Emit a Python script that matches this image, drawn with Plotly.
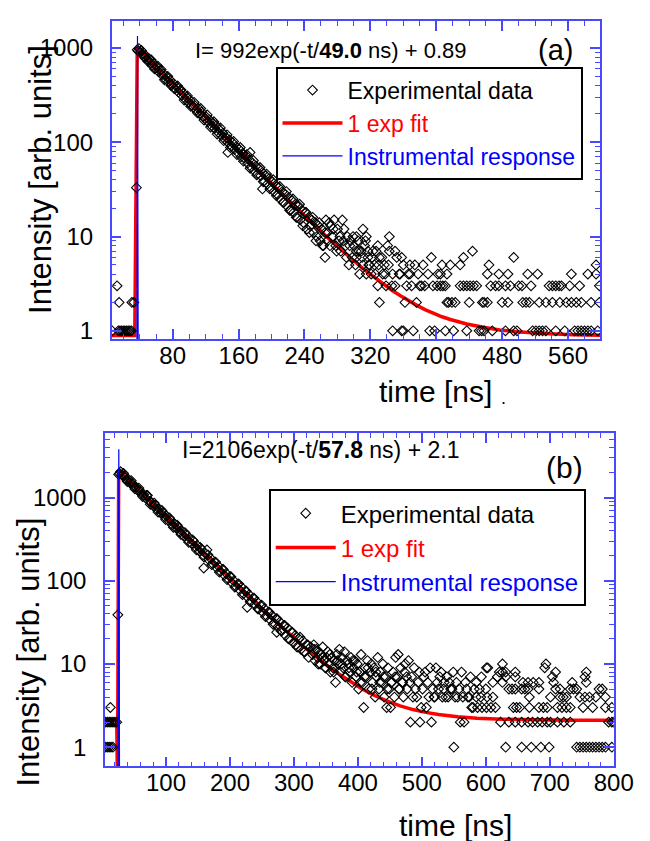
import plotly.graph_objects as go

W, H = 650, 841
FONT = "Liberation Sans, Arial, sans-serif"
FRAME = "#4848ff"

# ---------------- Panel (a) data ----------------
A_PRE_T = [6.5, 14, 16, 18, 20, 22, 24, 26, 28, 30, 15, 30.5, 33, 12.5, 36]
A_PRE_I = [1, 1, 1, 1, 1, 1, 1, 1, 1, 1, 2, 2, 2, 3, 33]

A_DEC_T = [37, 39, 41, 43, 45, 47, 49, 51, 53, 55, 57, 59, 61, 63, 65, 67, 69, 71, 73, 75,
           77, 79, 81, 83, 85, 87, 89, 91, 93, 95, 97, 99, 101, 103, 105, 107, 109, 111, 113, 115,
           117, 119, 121, 123, 125, 127, 129, 131, 133, 135, 137, 139, 141, 143, 145, 147, 149, 151, 153, 155,
           157, 159, 161, 163, 165, 167, 169, 171, 173, 175, 177, 179, 181, 183, 185, 187, 189, 191, 193, 195,
           197, 199, 201, 203, 205, 207, 209, 211, 213, 215, 217, 219, 221, 223, 225, 227, 229, 231, 233, 235,
           237, 239, 241, 243, 245, 247, 249, 251, 253, 255, 257, 259, 261, 263, 265]
A_DEC_I = [960, 985, 900, 870, 820, 835, 760, 770, 700, 650,
           680, 610, 625, 560, 575, 520, 530, 470, 490, 440,
           455, 410, 420, 370, 385, 340, 355, 315, 330, 290,
           300, 265, 280, 250, 235, 245, 220, 230, 200, 210,
           190, 178, 185, 165, 172, 150, 158, 140, 150, 128,
           135, 118, 125, 108, 112, 100, 106, 92, 98, 84,
           90, 78, 84, 70, 76, 68, 72, 60, 65, 55,
           60, 50, 56, 46, 52, 44, 48, 39, 44, 36,
           41, 33, 38, 30, 35, 28, 33, 25, 30, 23,
           28, 21, 26, 19, 24, 18, 22, 16, 21, 15,
           19, 14, 18, 12, 16, 13, 15, 11, 14, 10,
           13, 9, 12, 8, 11]
A_DEC2_T = [38, 42, 46, 50, 54, 58, 62, 66, 70, 74, 78, 82, 86, 90, 94, 98, 102, 106, 110, 114,
            118, 122, 126, 130, 134, 138, 142, 146, 150, 154, 158, 162, 166, 170, 174, 178, 182, 186, 190, 194,
            198, 202, 206, 210, 214, 218, 222, 226, 230, 234, 238, 242, 246, 250, 254, 258, 262]
A_DEC2_I = [930, 940, 790, 720, 745, 600, 640, 590, 460, 500, 400, 370, 395, 360, 280, 310, 240, 265, 205, 228,
            172, 195, 145, 165, 122, 142, 104, 120, 88, 102, 74, 88, 63, 74, 53, 64, 45, 54, 38, 46,
            32, 40, 27, 34, 23, 30, 19, 25, 16, 22, 13, 18, 11, 16, 9, 14, 8]
A_OUT_T = [147, 174, 189]
A_OUT_I = [78, 78, 32]

A_TAIL_T = [265, 266, 268, 270, 272, 274, 276, 278, 280, 282, 284, 286, 288, 290, 292, 294, 296, 298, 300,
            303, 303, 303, 305, 307, 309, 311, 311, 313, 315, 315, 317, 317, 319, 321, 323, 325, 327, 329, 329,
            268, 271, 275, 279, 283, 287, 291, 295, 299, 302, 306, 310, 314, 318, 322, 326, 330, 334, 338, 342,
            346, 352, 356, 360, 364, 366, 374, 386, 396, 402, 408,
            347, 358, 360, 372, 392, 398, 411,
            331, 362, 376, 413,
            339, 350, 370, 380, 382, 401, 405, 411,
            335, 347, 355, 368, 378, 390, 405, 413,
            337, 368, 384, 407,
            331, 358, 394,
            343, 350, 341, 343,
            421, 437, 452, 455, 458, 468, 484, 494, 498, 517, 521, 525, 529, 533, 545, 556, 568, 572, 576, 580, 584, 588, 596,
            415, 419, 423, 440, 456, 458, 462, 480, 487, 505, 509, 513, 525, 533, 541, 550, 558, 564, 570, 576, 588, 598,
            429, 433, 437, 441, 445, 449, 466, 472, 476, 484, 490, 500, 504, 515, 537, 541, 545, 549, 552, 562, 574, 598,
            462, 476, 487, 511, 523, 564, 584, 594,
            417, 429, 464, 594,
            433, 494,
            444]
A_TAIL_I = [6, 15, 9, 14, 13, 10, 15, 8, 12, 9, 7, 15, 12, 8, 10, 5, 9, 6, 8,
            10, 7, 6, 9, 4, 7, 5, 12, 8, 4, 10, 7, 6, 5, 4, 7, 5, 7, 8, 3,
            11, 8, 12, 7, 10, 9, 6, 8, 10, 5, 7, 6, 9, 5, 6, 4, 5, 6, 4, 5,
            3, 6, 4, 5, 3, 4, 5, 3, 3, 4, 3,
            1, 1, 1, 1, 1, 1, 1,
            2, 2, 2, 2,
            3, 3, 3, 3, 3, 3, 3, 3,
            4, 4, 4, 4, 4, 4, 4, 4,
            5, 5, 5, 5,
            6, 6, 6,
            7, 7, 8, 10,
            1, 1, 1, 1, 1, 1, 1, 1, 1, 1, 1, 1, 1, 1, 1, 1, 1, 1, 1, 1, 1, 1, 1,
            2, 2, 2, 2, 2, 2, 2, 2, 2, 2, 2, 2, 2, 2, 2, 2, 2, 2, 2, 2, 2, 2,
            3, 3, 3, 3, 3, 3, 3, 3, 3, 3, 3, 3, 3, 3, 3, 3, 3, 3, 3, 3, 3, 3,
            4, 4, 4, 4, 4, 4, 4, 4,
            5, 5, 5, 5,
            6, 6,
            7]

A_FIT_T = [6, 34, 37, 47, 57, 67, 77, 87, 97, 107, 117, 127, 137, 147, 157, 167, 177, 187, 197, 207,
           217, 227, 237, 247, 257, 267, 277, 287, 297, 307, 317, 327, 337, 347, 357, 367, 377, 387, 397,
           407, 417, 427, 437, 457, 477, 497, 517, 537, 567, 599]
A_FIT_I = [0.89, 0.89, 992.9, 809.8, 660.5, 538.8, 439.5, 358.6, 292.6, 238.7, 194.8, 159.0, 129.8, 106.0,
           86.6, 70.8, 57.9, 47.4, 38.8, 31.8, 26.1, 21.4, 17.6, 14.5, 12.0, 9.96, 8.29, 6.92, 5.81, 4.90,
           4.16, 3.56, 3.06, 2.66, 2.34, 2.07, 1.85, 1.67, 1.53, 1.41, 1.32, 1.24, 1.18, 1.09, 1.02, 0.98,
           0.95, 0.93, 0.91, 0.90]

A_IRF_T = [36.6, 37.3, 38.2]
A_IRF_I = [0.3, 1340, 0.3]

# ---------------- Panel (b) data ----------------
B_PRE_T = [5, 8, 11, 14, 17, 5, 8, 11, 14, 17, 20, 23, 13, 24.7]
B_PRE_I = [1, 1, 1, 1, 1, 2, 2, 2, 2, 2, 2, 2, 3, 39]

B_DEC_T = [26, 29, 32, 35, 38, 41, 44, 47, 50, 53, 56, 59, 62, 65, 68, 71, 74, 77, 80, 83,
           86, 89, 92, 95, 98, 101, 104, 107, 110, 113, 116, 119, 122, 125, 128, 131, 134, 137, 140, 143,
           146, 149, 152, 155, 158, 161, 164, 167, 170, 173, 176, 179, 182, 185, 188, 191, 194, 197, 200, 203,
           206, 209, 212, 215, 218, 221, 224, 227, 230, 233, 236, 239, 242, 245, 248, 251, 254, 257, 260, 263,
           266, 269, 272, 275, 278, 281, 284, 287, 290, 293, 296, 299, 302, 305, 308, 311, 314, 317, 320, 323, 326]
B_DEC_I = [1900, 2050, 1850, 1820, 1650, 1660, 1500, 1480, 1350, 1340,
           1220, 1210, 1100, 1090, 990, 1060, 900, 880, 800, 810,
           720, 730, 650, 660, 585, 600, 530, 540, 470, 485,
           430, 440, 385, 395, 345, 360, 310, 325, 280, 300,
           255, 265, 228, 240, 205, 215, 235, 178, 185, 160,
           168, 143, 150, 130, 137, 117, 123, 106, 112, 95,
           100, 86, 91, 78, 84, 70, 75, 64, 68, 57,
           62, 52, 56, 46, 50, 42, 46, 38, 42, 34,
           38, 31, 35, 28, 32, 25, 29, 22, 27, 20,
           24, 18, 22, 16, 20, 15, 19, 14, 17, 12, 16]
B_DEC2_T = [27.5, 33.5, 39.5, 45.5, 51.5, 57.5, 63.5, 69.5, 75.5, 81.5, 87.5, 93.5, 99.5, 105.5, 111.5,
            117.5, 123.5, 129.5, 135.5, 141.5, 147.5, 153.5, 159.5, 165.5, 171.5, 177.5, 183.5, 189.5,
            195.5, 201.5, 207.5, 213.5, 219.5, 225.5, 231.5, 237.5, 243.5, 249.5, 255.5, 261.5, 267.5,
            273.5, 279.5, 285.5, 291.5, 297.5, 303.5, 309.5, 315.5, 321.5]
B_DEC2_I = [1950, 1960, 1560, 1600, 1270, 1300, 1030, 1060, 830, 860, 670, 700, 545, 570, 440,
            465, 360, 380, 290, 310, 236, 252, 192, 205, 156, 168, 127, 137,
            103, 112, 84, 92, 68, 75, 56, 62, 46, 51, 37, 42, 30,
            35, 25, 29, 20, 24, 17, 21, 14, 17]
B_OUT_T = [159, 227, 273]
B_OUT_I = [142, 48, 24]

B_MID_T = [329, 331, 333, 335, 337, 339, 341, 343, 345, 347, 349, 351, 353, 355, 357, 359, 361, 363, 365, 367,
           369, 371, 373, 375, 377, 379, 381, 383, 385, 387, 389, 391, 393, 395, 397, 399, 401, 403, 405, 407,
           409, 411, 413, 415, 417, 419, 421, 423, 425, 427, 429, 431, 433, 435, 437, 439, 441, 443, 445, 447,
           449, 451, 453, 455, 457, 459, 461, 463, 465, 467, 469, 471, 473, 474, 477, 479, 481, 482, 484, 486,
           488, 490, 492, 494, 496, 497, 499, 501, 503, 505, 507, 509, 511, 513, 515, 517, 519, 520, 522, 524,
           526, 528, 530, 532, 534, 535, 537, 539, 541, 543, 545, 547, 549, 550, 552, 554, 556, 558, 560, 562,
           564, 566, 568, 570, 572, 574, 576, 578,
           332, 338, 344, 350, 356, 362, 368, 374, 380, 386, 392, 398, 404, 410, 416, 422, 428, 434, 440, 446,
           452, 458, 464, 470, 476]
B_MID_I = [13, 17, 11, 15, 12, 14, 10, 13, 16, 11, 9, 12, 14, 10, 8, 12, 9, 11, 6, 13,
           10, 15, 8, 12, 9, 14, 7, 11, 10, 8, 12, 6, 9, 11, 7, 10, 5, 8, 13, 6,
           3, 9, 7, 11, 5, 8, 10, 6, 9, 4, 7, 12, 5, 8, 6, 10, 4, 7, 3, 9,
           5, 3, 6, 8, 4, 12, 7, 13, 5, 9, 6, 4, 8, 10, 5, 11, 6, 2, 7, 4,
           9, 5, 4, 6, 8, 2, 3, 5, 7, 8, 3, 6, 4, 9, 2, 5, 4, 4, 9, 6,
           5, 7, 8, 4, 5, 6, 4, 7, 4, 6, 5, 5, 8, 1, 4, 6, 4, 5, 2, 8,
           4, 2, 6, 5, 4, 4, 7, 3,
           15, 10, 12, 9, 13, 8, 11, 10, 7, 9, 11, 8, 6, 7, 9, 5, 8, 6, 7, 5,
           6, 7, 5, 6, 7]

B_TAIL_T = [631, 656, 671, 686, 699, 742, 747, 752, 757, 762, 767, 772, 777, 782, 787, 797,
            623, 636, 646, 656, 666, 673, 681, 688, 696, 701, 712, 722, 732, 792, 797, 800,
            580, 587, 594, 601, 608, 615, 643, 648, 653, 668, 683, 690, 696, 712, 719, 726, 732, 752, 767, 787, 797,
            585, 592, 602, 611, 668, 701, 716, 721, 726, 747, 755, 762, 772, 787,
            582, 590, 600, 636, 641, 646, 656, 661, 666, 683, 709, 716, 732, 737, 742, 777, 782,
            585, 611, 626, 658, 666, 674, 683, 706, 735, 757,
            593, 618, 631, 646, 704, 755,
            621, 626, 631, 646, 709, 757,
            601, 603, 626, 692, 694]
B_TAIL_I = [1, 1, 1, 1, 1, 1, 1, 1, 1, 1, 1, 1, 1, 1, 1, 1,
            2, 2, 2, 2, 2, 2, 2, 2, 2, 2, 2, 2, 2, 2, 2, 2,
            3, 3, 3, 3, 3, 3, 3, 3, 3, 3, 3, 3, 3, 3, 3, 3, 3, 3, 3, 3, 3,
            4, 4, 4, 4, 4, 4, 4, 4, 4, 4, 4, 4, 4, 4,
            5, 5, 5, 5, 5, 5, 5, 5, 5, 5, 5, 5, 5, 5, 5, 5, 5,
            6, 6, 6, 6, 6, 6, 6, 6, 6, 6,
            7, 7, 7, 7, 7, 7,
            8, 8, 8, 8, 8, 8,
            9, 9, 10, 9, 10]

B_FIT_T = [4.5, 23, 24.2, 26, 36, 46, 56, 66, 76, 86, 96, 106, 116, 126, 136, 146, 156, 166, 176, 186,
           196, 206, 216, 226, 236, 246, 256, 266, 276, 286, 296, 306, 316, 326,
           346, 366, 386, 406, 426, 446, 466, 486, 506, 526, 556, 586, 626, 676, 726, 800]
B_FIT_I = [2.1, 2.1, 0.3, 2108, 1773, 1492, 1255, 1056, 889, 748, 629, 530, 446, 375.5, 316, 266, 224,
           189, 159.3, 134.3, 113.3, 95.6, 80.8, 68.3, 57.8, 48.9, 41.5, 35.2, 30.0, 25.5, 21.8, 18.7,
           16.0, 13.8, 10.4, 7.97, 6.25, 5.04, 4.18, 3.57, 3.14, 2.83, 2.62, 2.47, 2.32, 2.23, 2.17,
           2.13, 2.11, 2.10]

B_IRF_T = [25.0, 26.2, 27.4]
B_IRF_I = [0.2, 3800, 0.2]

Y_TICKS = [1, 10, 100, 1000]
Y_TICKTEXT = ["1", "10", "100", "1000"]
Y_MINOR = [m * d for d in (1, 10, 100, 1000) for m in range(2, 10)]

A_X_TICKS = [80, 160, 240, 320, 400, 480, 560]
B_X_TICKS = [100, 200, 300, 400, 500, 600, 700, 800]

# ---------------- Figure ----------------
fig = go.Figure()

diamond = dict(symbol="diamond-open", size=7.5, color="black", line=dict(width=1.1, color="black"))
RED_NAME = '<span style="color:#ff0000">1 exp fit</span>'
BLUE_NAME = '<span style="color:#0000ff">Instrumental response</span>'

panels = [
    (A_FIT_T, A_FIT_I,
     A_PRE_T + A_DEC_T + A_DEC2_T + A_OUT_T + A_TAIL_T,
     A_PRE_I + A_DEC_I + A_DEC2_I + A_OUT_I + A_TAIL_I,
     A_IRF_T, A_IRF_I, "x", "y", "legend"),
    (B_FIT_T, B_FIT_I,
     B_PRE_T + B_DEC_T + B_DEC2_T + B_OUT_T + B_MID_T + B_TAIL_T,
     B_PRE_I + B_DEC_I + B_DEC2_I + B_OUT_I + B_MID_I + B_TAIL_I,
     B_IRF_T, B_IRF_I, "x2", "y2", "legend2"),
]
for (fit_t, fit_i, dat_t, dat_i, irf_t, irf_i, xa, ya, leg) in panels:
    fig.add_trace(go.Scatter(x=fit_t, y=fit_i, mode="lines", name=RED_NAME,
                             line=dict(color="#ff0000", width=3.5), xaxis=xa, yaxis=ya,
                             legend=leg, legendrank=2))
    fig.add_trace(go.Scatter(x=dat_t, y=dat_i, mode="markers", name="Experimental data",
                             marker=diamond, xaxis=xa, yaxis=ya, legend=leg, legendrank=1))
    fig.add_trace(go.Scatter(x=irf_t, y=irf_i, mode="lines", name=BLUE_NAME,
                             line=dict(color="#0000ff", width=1.2), xaxis=xa, yaxis=ya,
                             legend=leg, legendrank=3))


def px(x):
    return x / W


def py(y):
    return 1 - y / H


def xaxis(dom, rng, ticks, anchor):
    return dict(domain=dom, range=rng, anchor=anchor, tickmode="array", tickvals=ticks,
                showline=True, linecolor=FRAME, linewidth=1.5, mirror="allticks",
                ticks="inside", ticklen=10, tickwidth=1.5, tickcolor=FRAME,
                showgrid=False, zeroline=False, ticklabelstandoff=-6,
                tickfont=dict(family=FONT, size=24, color="black"),
                minor=dict(ticks="inside", ticklen=5, tickwidth=1.2, tickcolor=FRAME,
                           tick0=0, dtick=20, showgrid=False))


def yaxis(dom, rng, anchor):
    return dict(domain=dom, range=rng, anchor=anchor, type="log", tickmode="array",
                tickvals=Y_TICKS, ticktext=Y_TICKTEXT,
                showline=True, linecolor=FRAME, linewidth=1.5, mirror="allticks",
                ticks="inside", ticklen=10, tickwidth=1.5, tickcolor=FRAME,
                showgrid=False, zeroline=False, ticklabelstandoff=12,
                tickfont=dict(family=FONT, size=24, color="black"),
                minor=dict(ticks="inside", ticklen=5, tickwidth=1.2, tickcolor=FRAME,
                           tickmode="array", tickvals=Y_MINOR, showgrid=False))


legend_common = dict(xanchor="left", yanchor="top", bgcolor="white", bordercolor="black",
                     borderwidth=2, itemwidth=60, tracegroupgap=0, traceorder="normal")

fig.update_layout(
    width=W, height=H,
    margin=dict(l=0, r=0, t=0, b=0),
    paper_bgcolor="white", plot_bgcolor="white",
    font=dict(family=FONT, color="black"),
    xaxis=xaxis([px(107), px(611)], [6, 599], A_X_TICKS, "y"),
    yaxis=yaxis([py(333), py(13)], [-0.087, 3.287], "x"),
    xaxis2=xaxis([px(100), px(625)], [4.5, 800], B_X_TICKS, "y2"),
    yaxis2=yaxis([py(763), py(428)], [-0.232, 3.771], "x2"),
    legend=dict(x=px(276), y=py(59), font=dict(family=FONT, size=23, color="black"), **legend_common),
    legend2=dict(x=px(269), y=py(484), font=dict(family=FONT, size=24, color="black"), **legend_common),
    showlegend=True,
)

annots = [
    dict(x=px(333), y=py(43), text="I= 992exp(-t/<b>49.0</b> ns) + 0.89", size=22),
    dict(x=px(565), y=py(42), text="(a)", size=29),
    dict(x=px(441), y=py(386), text="time [ns]", size=30),
    dict(x=px(511), y=py(392), text=".", size=18),
    dict(x=px(34), y=py(172), text="Intensity [arb. units]", size=31, angle=-90),
    dict(x=px(322), y=py(445), text="I=2106exp(-t/<b>57.8</b> ns) + 2.1", size=23),
    dict(x=px(574), y=py(462), text="(b)", size=30),
    dict(x=px(462), y=py(822), text="time [ns]", size=30),
    dict(x=px(21), y=py(648), text="Intensity [arb. units]", size=31, angle=-90),
]
for a in annots:
    fig.add_annotation(x=a["x"], y=a["y"], xref="paper", yref="paper", text=a["text"],
                       showarrow=False, xanchor="center", yanchor="middle",
                       textangle=a.get("angle", 0),
                       font=dict(family=FONT, size=a["size"], color="black"))

fig.write_html("out.html")
